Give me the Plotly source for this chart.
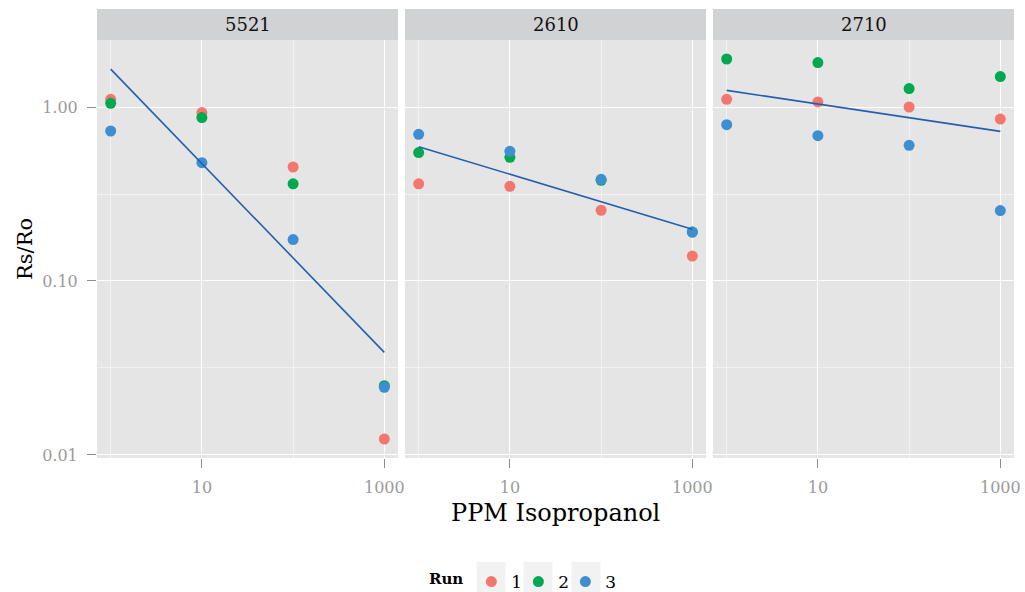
import numpy as np
import plotly.graph_objects as go
from plotly.subplots import make_subplots

# Concentrations (PPM isopropanol) and sensor panels
ppm = [1, 10, 100, 1000]
sensors = ["5521", "2610", "2710"]
runs = ["1", "2", "3"]

# Rs/Ro readings, one list per run, per sensor
rs_5521 = {
    "1": [1.107, 0.929, 0.452, 0.01235],
    "2": [1.05, 0.869, 0.362, 0.0250],
    "3": [0.728, 0.479, 0.173, 0.0245],
}
rs_2610 = {
    "1": [0.362, 0.350, 0.255, 0.139],
    "2": [0.547, 0.514, 0.379, 0.191],
    "3": [0.697, 0.556, 0.384, 0.191],
}
rs_2710 = {
    "1": [1.107, 1.069, 1.0, 0.853],
    "2": [1.888, 1.80, 1.276, 1.496],
    "3": [0.792, 0.684, 0.602, 0.254],
}
readings = {"5521": rs_5521, "2610": rs_2610, "2710": rs_2710}

run_colors = {"1": "#F3776F", "2": "#00A84F", "3": "#3E8ED2"}
fit_color = "#2260AE"

W, H = 1025, 592
SERIF = "DejaVu Serif"

# panel extents in pixels
panel_x = [(97, 398), (405, 706), (713, 1014)]
panel_top, panel_bottom = 40, 458
strip_top = 9


def px_x(p):
    return p / W


def px_y(p):
    return (H - p) / H


fig = make_subplots(rows=1, cols=3, shared_yaxes=True)

# least-squares fit of log(Rs/Ro) against log(PPM), pooled over runs
all_logs = []
fits = {}
for s in sensors:
    xs, ys = [], []
    for r in runs:
        xs += list(np.log10(ppm))
        ys += list(np.log10(readings[s][r]))
    slope, icpt = np.polyfit(xs, ys, 1)
    lx = np.linspace(min(xs), max(xs), 50)
    ly = icpt + slope * lx
    fits[s] = (10 ** lx, 10 ** ly)
    all_logs += ys + list(ly)

ylo, yhi = min(all_logs), max(all_logs)
span = yhi - ylo
yrange = [ylo - 0.05 * span, yhi + 0.05 * span]
xlo, xhi = np.log10(min(ppm)), np.log10(max(ppm))
xrange = [xlo - 0.05 * (xhi - xlo), xhi + 0.05 * (xhi - xlo)]

for i, s in enumerate(sensors):
    col = i + 1
    for r in runs:
        fig.add_trace(
            go.Scatter(
                x=ppm, y=readings[s][r], mode="markers", name=r,
                legendgroup=r, showlegend=(i == 0),
                marker=dict(color=run_colors[r], size=11, line=dict(width=0)),
                cliponaxis=False,
            ),
            row=1, col=col,
        )
    fx, fy = fits[s]
    fig.add_trace(
        go.Scatter(x=fx, y=fy, mode="lines", showlegend=False,
                   line=dict(color=fit_color, width=1.6), hoverinfo="skip"),
        row=1, col=col,
    )

# blank trailing legend slot so the last label is not clipped by the narrow entries
fig.add_trace(
    go.Scatter(x=[None], y=[None], mode="markers", name=" ", showlegend=True,
               marker=dict(color="rgba(0,0,0,0)", size=1), hoverinfo="skip"),
    row=1, col=1,
)

tick_font = dict(family=SERIF, size=16, color="#9A9A9A")

for i in range(3):
    x0, x1 = panel_x[i]
    fig.update_xaxes(
        type="log", range=xrange, domain=[px_x(x0), px_x(x1)],
        tickvals=[10, 1000], ticktext=["10", "1000"],
        showgrid=True, gridcolor="white", gridwidth=1.4,
        minor=dict(tickvals=[1, 100], showgrid=True, gridcolor="#F2F2F2", gridwidth=0.6, ticks=""),
        ticks="outside", ticklen=9, tickwidth=1.3, tickcolor="#8C8C8C",
        ticklabelstandoff=6, tickfont=tick_font,
        showline=False, zeroline=False,
        row=1, col=i + 1,
    )
    fig.update_yaxes(
        type="log", range=yrange, domain=[px_y(panel_bottom), px_y(panel_top)],
        tickvals=[0.01, 0.1, 1], ticktext=["0.01", "0.10", "1.00"],
        showgrid=True, gridcolor="white", gridwidth=1.4,
        minor=dict(tickvals=[10 ** -1.5, 10 ** -0.5], showgrid=True, gridcolor="#F2F2F2", gridwidth=0.6, ticks=""),
        ticks="outside" if i == 0 else "", ticklen=9, tickwidth=1.3, tickcolor="#8C8C8C",
        ticklabelstandoff=6, tickfont=tick_font,
        showticklabels=(i == 0),
        showline=False, zeroline=False,
        row=1, col=i + 1,
    )

shapes = []
annotations = []
for i, s in enumerate(sensors):
    x0, x1 = panel_x[i]
    shapes.append(dict(type="rect", xref="paper", yref="paper",
                       x0=px_x(x0), x1=px_x(x1), y0=px_y(panel_top), y1=px_y(strip_top),
                       fillcolor="#D1D2D4", line=dict(width=0), layer="below"))
    annotations.append(dict(text=s, xref="paper", yref="paper",
                            x=px_x((x0 + x1) / 2), y=px_y((strip_top + panel_top) / 2),
                            showarrow=False, xanchor="center", yanchor="middle",
                            font=dict(family=SERIF, size=18, color="#111111")))

# light key backgrounds behind the legend swatches
for cx in (491, 538, 586):
    shapes.append(dict(type="rect", xref="paper", yref="paper",
                       x0=px_x(cx - 14.5), x1=px_x(cx + 14.5), y0=px_y(592), y1=px_y(562),
                       fillcolor="#F2F2F2", line=dict(width=0), layer="below"))

annotations.append(dict(text="PPM Isopropanol", xref="paper", yref="paper",
                        x=px_x((panel_x[0][0] + panel_x[2][1]) / 2), y=px_y(513),
                        showarrow=False, xanchor="center", yanchor="middle",
                        font=dict(family=SERIF, size=24, color="black")))
annotations.append(dict(text="Rs/Ro", xref="paper", yref="paper",
                        x=px_x(25), y=px_y((panel_top + panel_bottom) / 2),
                        showarrow=False, xanchor="center", yanchor="middle", textangle=-90,
                        font=dict(family=SERIF, size=21, color="black")))

fig.update_layout(
    width=W, height=H, margin=dict(l=0, r=0, t=0, b=0, autoexpand=False),
    paper_bgcolor="white", plot_bgcolor="#E5E5E5",
    shapes=shapes, annotations=annotations,
    showlegend=True,
    legend=dict(orientation="h", x=px_x(427), y=px_y(582), xanchor="left", yanchor="middle",
                title=dict(text="<b>Run</b>", side="left", font=dict(family=SERIF, size=15, color="black")),
                font=dict(family=SERIF, size=17, color="black"),
                bgcolor="rgba(0,0,0,0)", itemwidth=30, tracegroupgap=0,
                entrywidth=2, entrywidthmode="pixels"),
)

fig.write_html("out.html")
